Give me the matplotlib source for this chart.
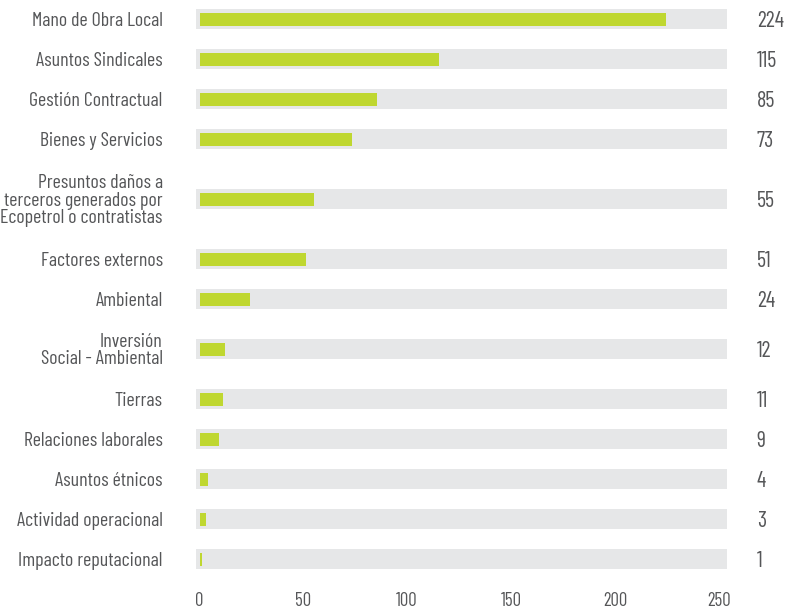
import matplotlib
matplotlib.use("Agg")
import matplotlib.pyplot as plt

categories = [
    "Mano de Obra Local",
    "Asuntos Sindicales",
    "Gestión Contractual",
    "Bienes y Servicios",
    "Presuntos daños a\nterceros generados por\nEcopetrol o contratistas",
    "Factores externos",
    "Ambiental",
    "Inversión\nSocial - Ambiental",
    "Tierras",
    "Relaciones laborales",
    "Asuntos étnicos",
    "Actividad operacional",
    "Impacto reputacional",
]
values = [224, 115, 85, 73, 55, 51, 24, 12, 11, 9, 4, 3, 1]
x_ticks = [0, 50, 100, 150, 200, 250]

plt.rcParams['font.family'] = ['Barlow Condensed', 'DejaVu Sans']
text_color = '#555658'
green = '#BFD730'
gray = '#E6E7E8'

fig = plt.figure(figsize=(7.88, 6.09), dpi=100)
W, H = 788, 609
ax_top_px, ax_bot_px = 0, 580
ax = fig.add_axes([196 / W, 1 - ax_bot_px / H, (727 - 196) / W, (ax_bot_px - ax_top_px) / H])

# row positions in pixel-like units derived from the number of label lines
ys = []
cur = 19 - 20
for lab in categories:
    n = lab.count('\n') + 1
    half = 20 + 10 * (n - 1)
    cur += half
    ys.append(cur)
    cur += half

xmin, xmax = -1.45, 253.8
ax.barh(ys, [xmax - xmin] * len(ys), left=xmin, height=20, color=gray, zorder=1)
ax.barh(ys, values, left=0.5, height=13, color=green, zorder=2)

ax.set_xlim(xmin, xmax)
ax.set_ylim(ax_bot_px, ax_top_px)
ax.set_yticks(ys)
ax.set_yticklabels(categories, fontsize=14.3, color=text_color, linespacing=0.93)
ax.set_xticks(x_ticks)
ax.set_xticklabels([str(t) for t in x_ticks], fontsize=13.5, color=text_color)
ax.tick_params(axis='y', length=0, pad=24)
ax.tick_params(axis='x', length=0, pad=9)
for s in ax.spines.values():
    s.set_visible(False)

for y, v in zip(ys, values):
    ax.annotate(str(v), xy=(1, y), xycoords=('axes fraction', 'data'),
                xytext=(21.5, 0), textcoords='offset points',
                ha='left', va='center_baseline', fontsize=16, color=text_color)

fig.savefig('out.png', dpi=100)
